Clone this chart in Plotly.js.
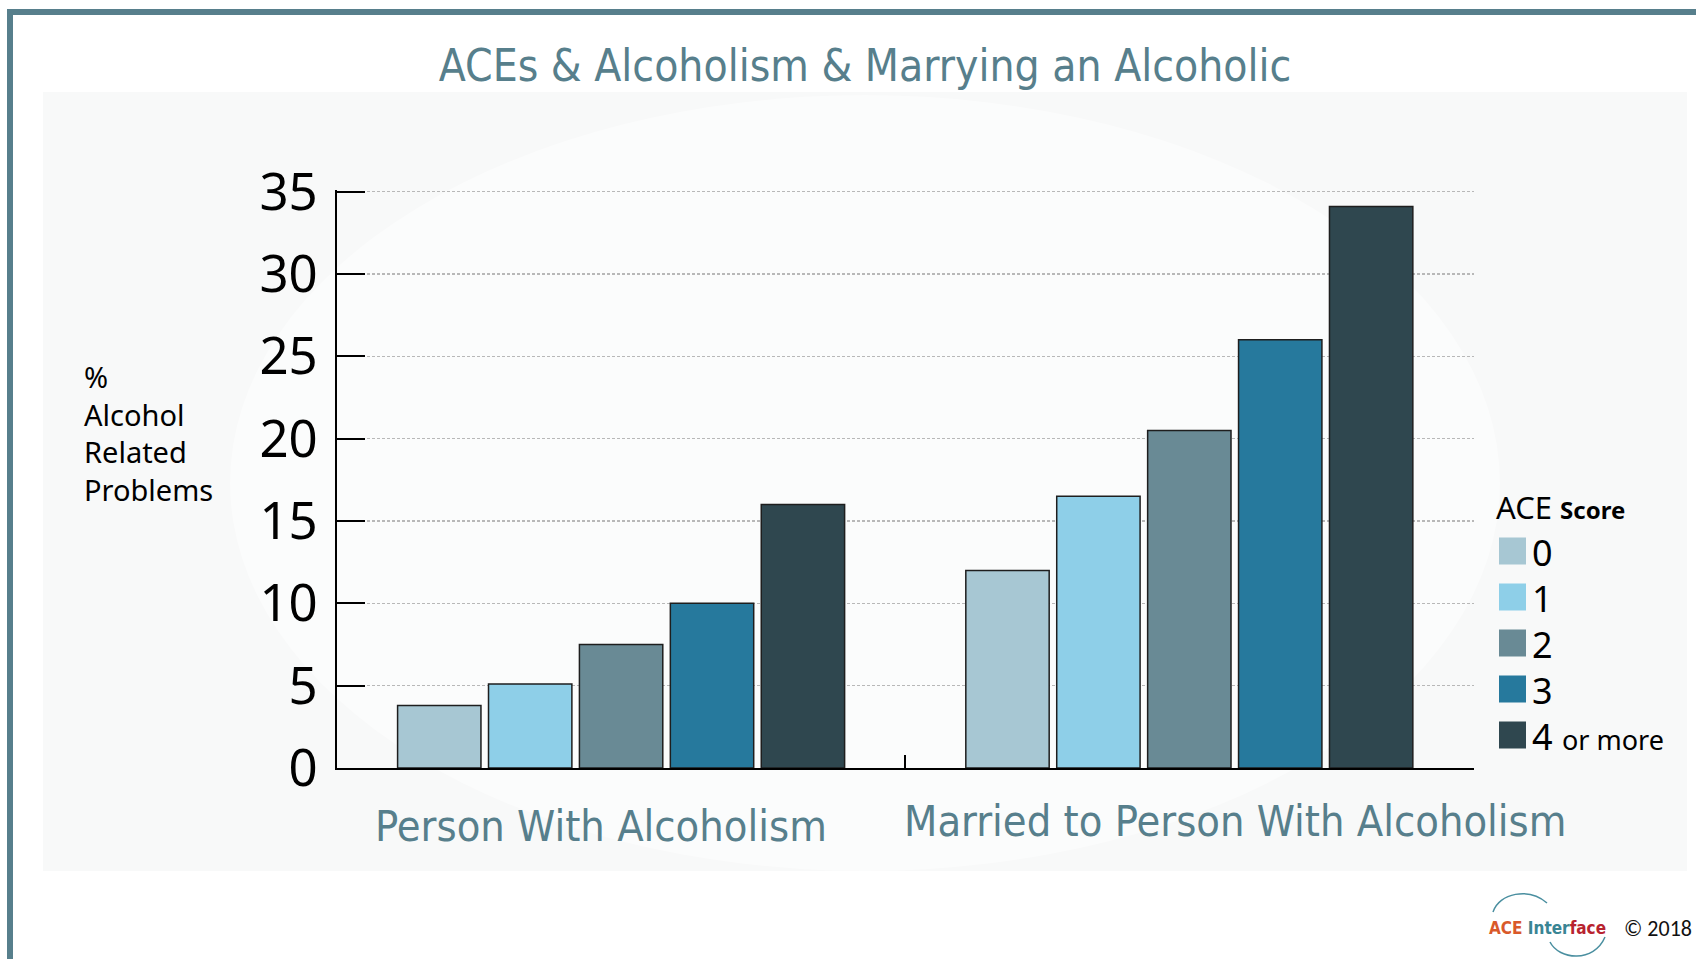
<!DOCTYPE html>
<html><head><meta charset="utf-8">
<script src="https://cdn.plot.ly/plotly-3.0.1.min.js"></script>
<style>html,body{margin:0;padding:0;background:#fff;} #chart{width:1696px;height:959px;}</style>
</head><body><div id="chart"></div>
<script>
// ---- data ----
const categories = ["Person With Alcoholism", "Married to Person With Alcoholism"];
const scoreLabels = ["0", "1", "2", "3", "4 or more"];
const ace0 = [3.8, 12];
const ace1 = [5.1, 16.5];
const ace2 = [7.5, 20.5];
const ace3 = [10, 26];
const ace4 = [16, 34.1];
const seriesValues = [ace0, ace1, ace2, ace3, ace4];
const tickValues = [0, 5, 10, 15, 20, 25, 30, 35];
const colors = ["#a7c7d3", "#8ecfe8", "#698a95", "#26799d", "#2f474f"];
const yTitleLines = ["%", "Alcohol", "Related", "Problems"];
const titleText = "ACEs &amp; Alcoholism &amp; Marrying an Alcoholic";
const legendTitle = "ACE";
const legendSub = "Score";

// ---- geometry helpers ----
const W = 1696, H = 959, L = 337, R = 222, T = 190, B = 191;
const PW = W - L - R, PH = H - T - B;
const px = x => (x - L) / PW;
const py = y => (H - B - y) / PH;

const TEAL = "#577f8c";
const COND = '"Liberation Sans Narrow", "Arial Narrow", "DejaVu Sans Condensed", sans-serif';
const SANS = '"Noto Sans", "Open Sans", sans-serif';

const traces = seriesValues.map((vals, i) => ({
  type: "bar",
  name: scoreLabels[i],
  x: categories,
  y: vals,
  marker: {color: colors[i], line: {color: "#1e1e1e", width: 1.5}},
  hoverinfo: "x+y+name"
}));

const annotations = [];
// category labels
const catShift = [-20, 46];
const catY = [826, 821];
categories.forEach((c, i) => {
  annotations.push({
    xref: "x", x: c, xshift: catShift[i], yref: "paper", y: py(catY[i]),
    xanchor: "center", yanchor: "middle", showarrow: false,
    text: c, font: {family: COND, size: 43, color: TEAL}, borderpad: 0, borderwidth: 0
  });
});
// y title (wrapped)
annotations.push({
  xref: "paper", x: px(84), yref: "paper", y: py(433),
  xanchor: "left", yanchor: "middle", align: "left", showarrow: false,
  text: yTitleLines.join("<br>"), font: {family: SANS, size: 29, color: "#000"},
  borderpad: 0, borderwidth: 0
});
// legend title
annotations.push({
  xref: "paper", x: px(1496), yref: "paper", y: py(507),
  xanchor: "left", yanchor: "middle", showarrow: false,
  text: legendTitle + " <span style='font-size:24px'><b>" + legendSub + "</b></span>",
  font: {family: SANS, size: 31, color: "#000"}, borderpad: 0, borderwidth: 0
});
const shapes = [];
// panel background
shapes.push({type: "rect", xref: "paper", yref: "paper", layer: "below",
  x0: px(43), x1: px(1687), y0: py(92), y1: py(871), fillcolor: "#f8f9f9", line: {width: 0}});
shapes.push({type: "circle", xref: "paper", yref: "paper", layer: "below",
  x0: px(230), x1: px(1500), y0: py(95), y1: py(871), fillcolor: "rgba(255,255,255,0.45)", line: {width: 0}});
// page border
shapes.push({type: "rect", xref: "paper", yref: "paper", layer: "above",
  x0: px(7), x1: px(1696), y0: py(9), y1: py(15), fillcolor: TEAL, line: {width: 0}});
shapes.push({type: "rect", xref: "paper", yref: "paper", layer: "above",
  x0: px(7), x1: px(13), y0: py(9), y1: py(959), fillcolor: TEAL, line: {width: 0}});
// legend items
const legendY0 = 551, legendStep = 46;
scoreLabels.forEach((lab, i) => {
  const cy = legendY0 + i * legendStep;
  shapes.push({type: "rect", xref: "paper", yref: "paper", layer: "above",
    x0: px(1499), x1: px(1526), y0: py(cy - 13.5), y1: py(cy + 13.5),
    fillcolor: colors[i], line: {width: 0}});
  const parts = lab.split(" ");
  const txt = parts[0] + (parts.length > 1 ? " <span style='font-size:27px'>" + parts.slice(1).join(" ") + "</span>" : "");
  annotations.push({
    xref: "paper", x: px(1532), yref: "paper", y: py(cy + 1),
    xanchor: "left", yanchor: "middle", showarrow: false,
    text: txt, font: {family: SANS, size: 36, color: "#000"}, borderpad: 0, borderwidth: 0
  });
});
// logo
annotations.push({
  xref: "paper", x: px(1489), yref: "paper", y: py(928),
  xanchor: "left", yanchor: "middle", showarrow: false,
  text: "<b><span style='color:#d9592a'>ACE</span> <span style='color:#3a8594'>Inter</span><span style='color:#b8232f'>face</span></b>",
  font: {family: COND, size: 17, color: "#3a8594"}, borderpad: 0, borderwidth: 0
});
annotations.push({
  xref: "paper", x: px(1624), yref: "paper", y: py(928),
  xanchor: "left", yanchor: "middle", showarrow: false,
  text: "© 2018", font: {family: '"Carlito", "Liberation Sans", sans-serif', size: 22, color: "#111"},
  borderpad: 0, borderwidth: 0
});
shapes.push({type: "path", xref: "paper", yref: "paper", xsizemode: "pixel", ysizemode: "pixel",
  xanchor: px(1549), yanchor: py(925), layer: "above",
  path: "M -56,13 C -50,32 -20,38 -2,22", line: {color: "#4a8fa0", width: 1.5}});
shapes.push({type: "path", xref: "paper", yref: "paper", xsizemode: "pixel", ysizemode: "pixel",
  xanchor: px(1549), yanchor: py(925), layer: "above",
  path: "M 1,-17 C 10,-35 45,-38 56,-12", line: {color: "#4a8fa0", width: 1.5}});

const layout = {
  width: W, height: H,
  margin: {l: L, r: R, t: T, b: B, pad: 0},
  paper_bgcolor: "#ffffff",
  plot_bgcolor: "rgba(0,0,0,0)",
  showlegend: false,
  barmode: "group",
  bargap: 0.20,
  bargroupgap: 0.083,
  title: {
    text: titleText, font: {family: COND, size: 44, color: TEAL},
    xref: "container", x: 865 / W, xanchor: "center",
    yref: "container", y: 1 - 66 / H, yanchor: "middle"
  },
  xaxis: {
    type: "category", range: [-0.5, 1.501], tickson: "boundaries",
    ticks: "inside", ticklen: 13, tickwidth: 2, tickcolor: "#000",
    showline: true, linecolor: "#000", linewidth: 2,
    showticklabels: false, showgrid: false, zeroline: false, fixedrange: true
  },
  yaxis: {
    range: [0, 35.1], tickvals: tickValues, ticktext: tickValues.map(String),
    ticks: "inside", ticklen: 28, tickwidth: 2, tickcolor: "#000",
    showline: true, linecolor: "#000", linewidth: 2,
    showgrid: true, gridcolor: "#b8b8b8", gridwidth: 1.5, griddash: "3px,2px",
    zeroline: false, ticklabelstandoff: 7,
    tickfont: {family: SANS, size: 51, color: "#000"}, fixedrange: true
  },
  annotations: annotations,
  shapes: shapes
};

Plotly.newPlot("chart", traces, layout, {displayModeBar: false, staticPlot: true});
</script>
</body></html>
